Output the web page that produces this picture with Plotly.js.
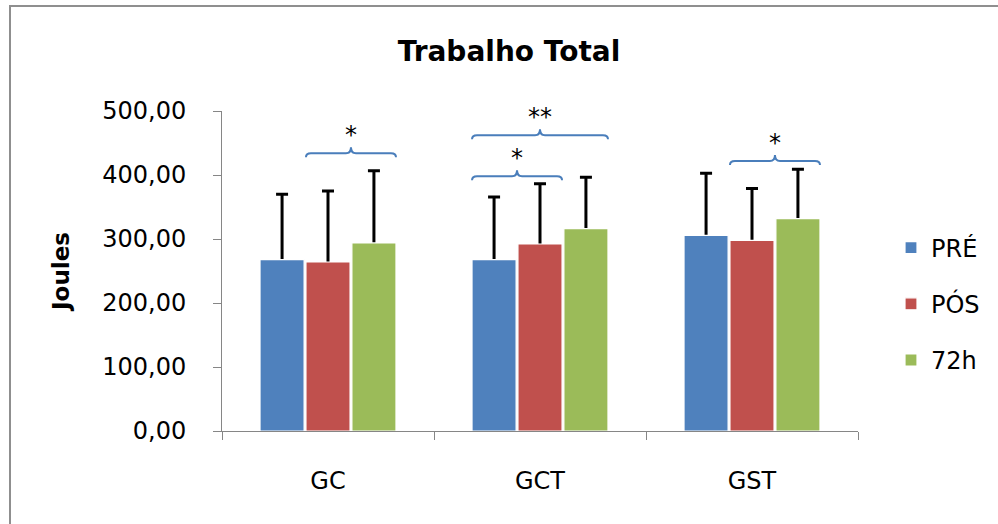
<!DOCTYPE html>
<html>
<head>
<meta charset="utf-8">
<script src="https://cdn.plot.ly/plotly-3.0.1.min.js"></script>
<style>
  html, body { margin: 0; padding: 0; background: #fff; }
  #wrap { position: relative; width: 998px; height: 524px; overflow: hidden; }
  #chart { position: absolute; left: 0; top: 0; width: 998px; height: 524px; }
  #frame { position: absolute; left: 9px; top: 5px; width: 1000px; height: 530px;
           border-left: 2px solid #8f8f8f; border-top: 2px solid #8f8f8f; pointer-events: none; }
</style>
</head>
<body>
<div id="wrap">
  <div id="chart"></div>
  <div id="frame"></div>
</div>
<script>
// ---- data ----
const categories = ['GC', 'GCT', 'GST'];
const seriesNames = ['PRÉ', 'PÓS', '72h'];
const preValues  = [267.8, 267.8, 305.8];
const posValues  = [264.1, 292.2, 298.0];
const h72Values  = [293.8, 316.3, 331.9];
const preErr     = [102, 98, 97];
const posErr     = [111, 94, 81];
const h72Err     = [113, 80, 77];
const colors = ['#4F81BD', '#C0504D', '#9BBB59'];
// significance brackets: group index, first series, last series, level (Joules), label
const sigGroup = [0, 1, 1, 2];
const sigFrom  = [1, 0, 0, 1];
const sigTo    = [2, 1, 2, 2];
const sigLevel = [434, 398, 462, 422];
const sigLabel = ['*', '*', '**', '*'];

// ---- layout constants ----
const W = 998, H = 524;
const M = {l: 222, r: 140, t: 111, b: 93};
const bargap = 0.35, bargroupgap = 0.04;
const FONT = 'DejaVu Sans';
const axisGray = '#868686';

const values = [preValues, posValues, h72Values];
const errs = [preErr, posErr, h72Err];

const slot = (1 - bargap) / seriesNames.length;
function barLeft(g, s)   { return g - (1 - bargap) / 2 + s * slot + slot * bargroupgap / 2; }
function barRight(g, s)  { return g - (1 - bargap) / 2 + (s + 1) * slot - slot * bargroupgap / 2; }
function barCenter(g, s) { return g - (1 - bargap) / 2 + (s + 0.5) * slot; }

// Error bars live on the lower (linear) subplot so that the bars (upper, overlaying subplot)
// hide the downward part; only the upward whisker + cap remain visible.
const errTraces = seriesNames.map((name, i) => ({
  type: 'scatter', mode: 'markers', xaxis: 'x', yaxis: 'y',
  x: categories.map((c, g) => barCenter(g, i)),
  y: values[i],
  marker: {size: 1, opacity: 0},
  showlegend: false, hoverinfo: 'skip',
  error_y: {
    type: 'data', symmetric: false,
    array: errs[i], arrayminus: values[i],
    color: '#000000', thickness: 3, width: 6
  }
}));

const barTraces = seriesNames.map((name, i) => ({
  type: 'bar', name: name, xaxis: 'x2', yaxis: 'y',
  x: categories, y: values[i],
  legendgroup: 'g' + i,
  marker: {color: colors[i], line: {color: '#ffffff', width: 1.2}},
  hoverinfo: 'x+y+name'
}));

// pixel-to-data conversions for bracket decoration
const plotW = W - M.l - M.r, plotH = H - M.t - M.b;
const yRange = [0, 500];
const pxPerY = plotH / (yRange[1] - yRange[0]);
const pxPerX = plotW / categories.length;

const shapes = [];
const annotations = [];
const dEnd = 4 / pxPerY, dMid = 6 / pxPerY, rx = 5 / pxPerX;
for (let k = 0; k < sigGroup.length; k++) {
  const x1 = barLeft(sigGroup[k], sigFrom[k]);
  const x2 = barRight(sigGroup[k], sigTo[k]);
  const xm = (x1 + x2) / 2;
  const L = sigLevel[k];
  const p = `M ${x1},${L - dEnd} Q ${x1},${L} ${x1 + rx},${L} L ${xm - rx},${L} Q ${xm},${L} ${xm},${L + dMid} ` +
            `Q ${xm},${L} ${xm + rx},${L} L ${x2 - rx},${L} Q ${x2},${L} ${x2},${L - dEnd}`;
  shapes.push({type: 'path', xref: 'x', yref: 'y', path: p,
               line: {color: '#4A7EBB', width: 2}, layer: 'above'});
  annotations.push({xref: 'x', yref: 'y', x: xm, y: L + dMid, yanchor: 'bottom',
                    text: sigLabel[k], showarrow: false, yshift: -4,
                    font: {family: FONT, size: 24, color: '#000'}});
}

const layout = {
  width: W, height: H,
  margin: M,
  paper_bgcolor: '#ffffff', plot_bgcolor: '#ffffff',
  separators: ',.',
  font: {family: FONT, size: 24, color: '#000'},
  title: {
    text: '<b>Trabalho Total</b>',
    font: {family: FONT, size: 28, color: '#000'},
    xref: 'container', yref: 'container', x: 0.51, xanchor: 'center',
    y: 1 - 51 / H, yanchor: 'middle'
  },
  barmode: 'group', bargap: bargap, bargroupgap: bargroupgap,
  xaxis: {
    range: [-0.5, categories.length - 0.5], visible: false, fixedrange: true
  },
  xaxis2: {
    overlaying: 'x', anchor: 'y', side: 'bottom',
    type: 'category', range: [-0.5, categories.length - 0.5],
    tickson: 'boundaries', ticks: 'outside', ticklen: 8,
    tickcolor: axisGray, showline: true, linecolor: axisGray, linewidth: 1,
    showgrid: false, zeroline: false, tickfont: {family: FONT, size: 24, color: '#000'},
    ticklabelstandoff: 28, fixedrange: true
  },
  yaxis: {
    range: yRange, dtick: 100, tick0: 0, tickformat: '.2f',
    ticks: 'outside', ticklen: 8, tickcolor: axisGray,
    showline: true, linecolor: axisGray, linewidth: 1,
    showgrid: false, zeroline: false,
    tickfont: {family: FONT, size: 24, color: '#000'},
    ticklabelstandoff: 22,
    title: {text: '<b>Joules</b>', font: {family: FONT, size: 23, color: '#000'}, standoff: 26},
    fixedrange: true
  },
  legend: {
    x: (891 - M.l) / plotW, xanchor: 'left',
    y: (H - M.b - 304) / plotH, yanchor: 'middle',
    font: {family: FONT, size: 24, color: '#000'},
    tracegroupgap: 22, bgcolor: 'rgba(0,0,0,0)'
  },
  shapes: shapes,
  annotations: annotations,
  showlegend: true
};

Plotly.newPlot('chart', errTraces.concat(barTraces), layout, {displayModeBar: false, staticPlot: true});
</script>
</body>
</html>
